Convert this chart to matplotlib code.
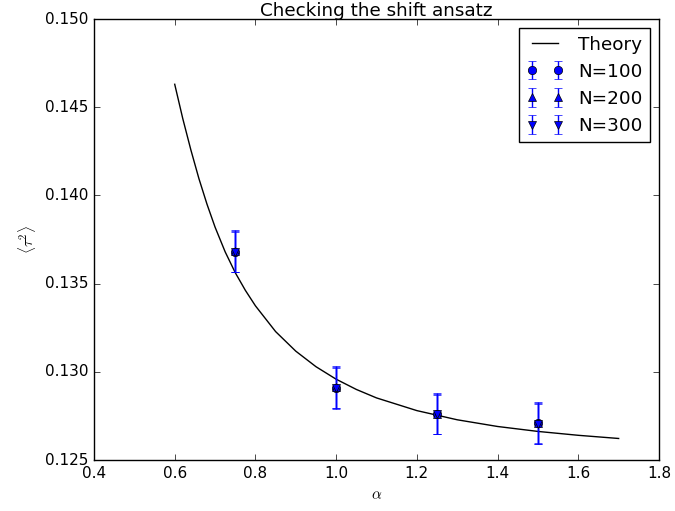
import numpy as np
import matplotlib
matplotlib.use("Agg")
import matplotlib.pyplot as plt

# theory curve
alpha_theory = [0.60, 0.62, 0.64, 0.66, 0.68, 0.70, 0.725, 0.75, 0.775, 0.80,
                0.85, 0.90, 0.95, 1.00, 1.05, 1.10, 1.20, 1.30, 1.40, 1.50,
                1.60, 1.70]
tau2_theory = [0.14630, 0.14435, 0.14258, 0.14095, 0.13950, 0.13820, 0.13680,
               0.13562, 0.13462, 0.13374, 0.13228, 0.13117, 0.13029, 0.12958,
               0.12900, 0.12852, 0.12780, 0.12728, 0.12690, 0.12662, 0.12640,
               0.12622]

# simulation data
alpha_data = [0.75, 1.00, 1.25, 1.50]
tau2_n100 = [0.13681, 0.12910, 0.12761, 0.12708]
err_n100 = [0.00115, 0.00118, 0.00112, 0.00115]
tau2_n200 = [0.13683, 0.12912, 0.12763, 0.12710]
err_n200 = [0.00120, 0.00122, 0.00114, 0.00118]
tau2_n300 = [0.13679, 0.12908, 0.12759, 0.12706]
err_n300 = [0.00112, 0.00114, 0.00110, 0.00112]

plt.style.use("classic")
plt.rcParams["font.size"] = 11
plt.rcParams["mathtext.fontset"] = "cm"

fig = plt.figure(figsize=(6.75, 5.11), dpi=100, facecolor="white")
ax = fig.add_axes([94 / 675, 51 / 511, 565 / 675, 441 / 511])

ax.plot(alpha_theory, tau2_theory, "k-", label="Theory")
ax.errorbar(alpha_data, tau2_n100, yerr=err_n100, fmt="bo", label="N=100")
ax.errorbar(alpha_data, tau2_n200, yerr=err_n200, fmt="b^", label="N=200")
ax.errorbar(alpha_data, tau2_n300, yerr=err_n300, fmt="bv", label="N=300")

ax.set_xlim(0.4, 1.8)
ax.set_ylim(0.125, 0.150)
ax.set_xticks(np.arange(0.4, 1.81, 0.2))
ax.set_yticks(np.arange(0.125, 0.1501, 0.005))
ax.set_yticklabels(["%.3f" % v for v in np.arange(0.125, 0.1501, 0.005)])
ax.set_xlabel(r"$\alpha$")
ax.set_ylabel(r"$\langle \tau^2 \rangle$")
ax.set_title("Checking the shift ansatz", pad=2)
ax.legend(loc="upper right")

fig.savefig("out.png", dpi=100, facecolor="white")
